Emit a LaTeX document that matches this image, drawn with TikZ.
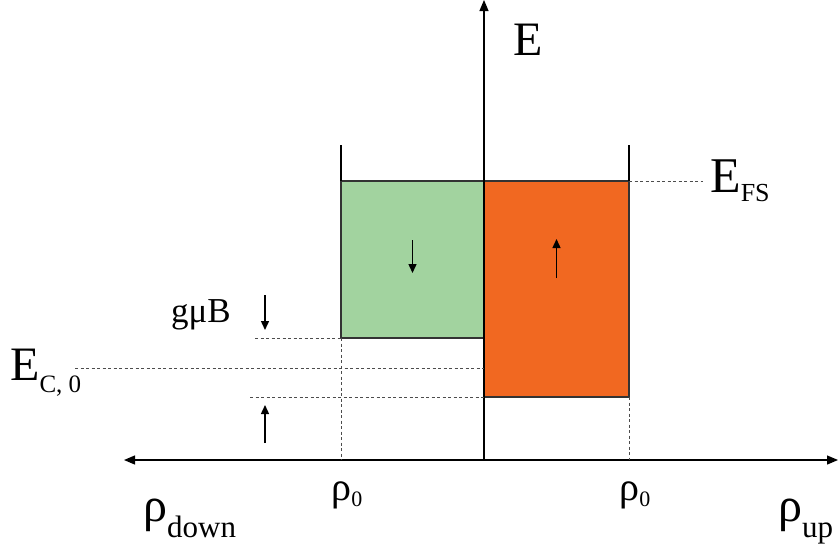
\documentclass[tikz,border=0pt]{standalone}
\usepackage{fontspec}
\setmainfont{Liberation Serif}
\newfontfamily\labelfont{Liberation Serif}
\usetikzlibrary{positioning, arrows.meta}
\definecolor{downfill}{RGB}{162,211,159}
\definecolor{upfill}{RGB}{241,104,33}

\begin{document}
\begin{tikzpicture}[x=1pt, y=-1pt,
  axis/.style={line width=1.2pt, -{Triangle[length=11pt,width=9pt]}},
  band/.style={draw=black!80, line width=1.3pt, fill=#1, inner sep=0pt, outer sep=0pt},
  wall/.style={line width=1.2pt},
  level/.style={dash pattern=on 3pt off 2.5pt, line width=0.9pt, black!70},
  spin/.style={line width=1.4pt, -{Triangle[length=9pt,width=8pt]}},
  lbl/.style={inner sep=0pt, anchor=base west},
  big/.style={lbl, font=\labelfont\fontsize{48}{48}\selectfont},
  mid/.style={lbl, font=\labelfont\fontsize{35}{35}\selectfont}
]
\useasboundingbox (0,0) rectangle (838,547);

% axes
\coordinate (origin) at (484,460);
\coordinate (etop) at (484,0);
\coordinate (rleft) at (124,460);
\coordinate (rright) at (838,460);
\draw[axis] (origin) -- (rleft);
\draw[axis] (origin) -- (rright);

% spin bands
\node[band=downfill, minimum width=143pt, minimum height=157pt,
      anchor=north east] (dband) at (484,181) {};
\node[band=upfill, minimum width=145pt, minimum height=216pt,
      anchor=north west] (uband) at (484,181) {};
\draw[axis] (origin) -- (etop);

% walls above the bands
\coordinate (dwall) at (341,145);
\coordinate (uwall) at (629,145);
\draw[wall] (dband.north west) -- (dband.north west |- dwall);
\draw[wall] (uband.north east) -- (uband.north east |- uwall);

% spin arrows
\draw[spin] ([yshift=-59pt]dband.north) -- ([yshift=-92pt]dband.north);
\draw[spin] ([yshift=-97pt]uband.north) -- ([yshift=-58pt]uband.north);

% energy levels
\coordinate (fsend) at (703,181);
\coordinate (gstart) at (255,338);
\coordinate (cstart) at (75,368);
\coordinate (cend) at (484,368);
\coordinate (lstart) at (250,397);
\draw[level] (uband.north east) -- (uband.north east -| fsend);
\draw[level] (dband.south west -| gstart) -- (dband.south west);
\draw[level] (cstart) -- (cend);
\draw[level] (uband.south west -| lstart) -- (uband.south west);
\draw[level] (dband.south west) -- (dband.south west |- origin);
\draw[level] (uband.south east) -- (uband.south east |- origin);

% splitting arrows
\coordinate (gtop) at (265,295);
\coordinate (gbot) at (265,330);
\coordinate (ltop) at (265,405);
\coordinate (lbot) at (265,443);
\draw[spin] (gtop) -- (gbot);
\draw[spin] (lbot) -- (ltop);

% labels
\node[big] (elabel) at (513,55) {E};
\node[big] (efs) at (710,192) {\fontsize{50}{50}\selectfont E\raisebox{-9pt}{\fontsize{26}{26}\selectfont FS}};
\node[big] (ec0) at (10,380) {E\raisebox{-12pt}{\fontsize{25}{25}\selectfont C, 0}};
\node[mid] (gmub) at (171,322) {gμB};
\node[mid, anchor=base, font=\labelfont\fontsize{40}{40}\selectfont] (rho0d) at (347,500) {ρ\raisebox{-6pt}{\fontsize{22}{22}\selectfont 0}};
\node[mid, anchor=base, font=\labelfont\fontsize{40}{40}\selectfont] (rho0u) at (635,500) {ρ\raisebox{-6pt}{\fontsize{22}{22}\selectfont 0}};
\node[big] (rhodown) at (143,521) {ρ\raisebox{-16pt}{\fontsize{31}{31}\selectfont down}};
\node[big] (rhoup) at (778,521) {ρ\raisebox{-16pt}{\fontsize{31}{31}\selectfont up}};
\end{tikzpicture}
\end{document}
